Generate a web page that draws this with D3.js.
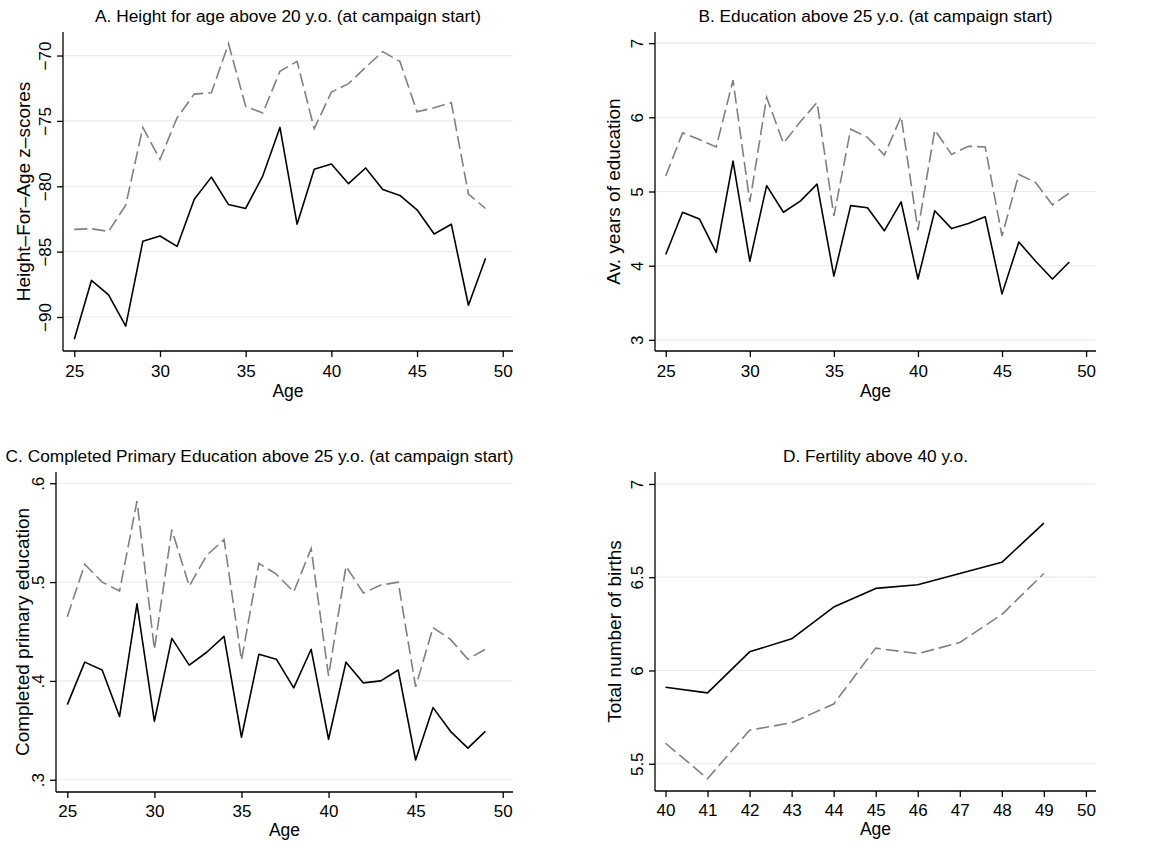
<!DOCTYPE html>
<html>
<head>
<meta charset="utf-8">
<script src="https://cdn.jsdelivr.net/npm/d3@7"></script>
<style>
  body { margin: 0; background: #fff; }
  text { font-family: "Liberation Sans", Arial, sans-serif; fill: #000; }
</style>
</head>
<body>
<div class="canvas"></div>
<script>
// data
const ages = d3.range(25, 50);
const ages40 = d3.range(40, 50);

const heightSolid = [-91.7, -87.2, -88.3, -90.7, -84.2, -83.8, -84.6, -81.0, -79.3, -81.4, -81.7, -79.2, -75.5,
  -82.9, -78.7, -78.3, -79.8, -78.6, -80.25, -80.7, -81.8, -83.65, -82.9, -89.1, -85.5];
const heightDashed = [-83.3, -83.25, -83.45, -81.45, -75.5, -77.95, -74.75, -72.95, -72.85, -69.1, -73.9, -74.4, -71.2,
  -70.45, -75.6, -72.8, -72.15, -70.9, -69.7, -70.45, -74.3, -74.0, -73.6, -80.6, -81.7];

const educSolid = [4.15, 4.72, 4.63, 4.18, 5.41, 4.06, 5.08, 4.72, 4.87, 5.10, 3.86, 4.81, 4.78,
  4.47, 4.86, 3.82, 4.74, 4.50, 4.57, 4.66, 3.62, 4.32, 4.06, 3.82, 4.05];
const educDashed = [5.21, 5.79, 5.70, 5.60, 6.50, 4.86, 6.27, 5.65, 5.94, 6.20, 4.67, 5.84, 5.73,
  5.49, 6.01, 4.48, 5.83, 5.50, 5.61, 5.60, 4.40, 5.23, 5.12, 4.82, 4.98];

const primarySolid = [.376, .419, .411, .364, .478, .359, .443, .416, .429, .445, .343, .427, .422,
  .393, .432, .341, .419, .398, .400, .411, .320, .373, .349, .332, .349];
const primaryDashed = [.465, .518, .500, .491, .582, .432, .553, .496, .527, .543, .421, .519, .508,
  .490, .534, .405, .516, .489, .497, .500, .394, .454, .442, .422, .432];

const birthsSolid = [5.91, 5.88, 6.10, 6.17, 6.34, 6.44, 6.46, 6.52, 6.58, 6.79];
const birthsDashed = [5.61, 5.42, 5.68, 5.72, 5.82, 6.12, 6.09, 6.15, 6.30, 6.52];

// tick labels
const ageTicks = [25, 30, 35, 40, 45, 50];
const age40Ticks = d3.range(40, 51);
const heightTicks = [-90, -85, -80, -75, -70];
const educTicks = [3, 4, 5, 6, 7];
const primaryTicks = [.3, .4, .5, .6];
const birthsTicks = [5.5, 6, 6.5, 7];

const width = 1171;
const height = 846;

const svg = d3.select('.canvas')
  .append('svg')
    .attr('width', width)
    .attr('height', height);

const panels = [
  {
    title: 'A. Height for age above 20 y.o. (at campaign start)', titleX: null, titleY: 22,
    ytitle: 'Height\u2013For\u2013Age z\u2013scores', ytitleOff: 33,
    box: {left: 63, top: 32, right: 513, bottom: 351},
    xd: [24.34, 50.6], yd: [-92.6, -68.2],
    xs: ages, solid: heightSolid, dashed: heightDashed,
    xt: ageTicks, yt: heightTicks, fmt: d => d < 0 ? '\u2212' + Math.abs(d) : d,
    xtOff: 26, xtitleOff: 46
  },
  {
    title: 'B. Education above 25 y.o. (at campaign start)', titleX: null, titleY: 22,
    ytitle: 'Av. years of education', ytitleOff: 35,
    box: {left: 655, top: 32, right: 1096, bottom: 351},
    xd: [24.36, 50.59], yd: [2.85, 7.15],
    xs: ages, solid: educSolid, dashed: educDashed,
    xt: ageTicks, yt: educTicks, fmt: d => d,
    xtOff: 26, xtitleOff: 46
  },
  {
    title: 'C. Completed Primary Education above 25 y.o. (at campaign start)', titleX: 259.5, titleY: 462,
    ytitle: 'Completed primary education', ytitleOff: 27,
    box: {left: 56, top: 472, right: 513, bottom: 792},
    xd: [24.35, 50.59], yd: [.2876, .6114],
    xs: ages, solid: primarySolid, dashed: primaryDashed,
    xt: ageTicks, yt: primaryTicks, fmt: d => String(d).replace(/^0/, ''),
    xtOff: 25, xtitleOff: 44
  },
  {
    title: 'D. Fertility above 40 y.o.', titleX: null, titleY: 462,
    ytitle: 'Total number of births', ytitleOff: 34,
    box: {left: 655, top: 472, right: 1096, bottom: 791},
    xd: [39.75, 50.24], yd: [5.354, 7.064],
    xs: ages40, solid: birthsSolid, dashed: birthsDashed,
    xt: age40Ticks, yt: birthsTicks, fmt: d => d,
    xtOff: 25, xtitleOff: 44
  }
];

const drawPanel = (p) => {
  const b = p.box;
  const x = d3.scaleLinear().domain(p.xd).range([b.left, b.right]);
  const y = d3.scaleLinear().domain(p.yd).range([b.bottom, b.top]);
  const g = svg.append('g');

  // gridlines
  g.selectAll('line.grid')
    .data(p.yt)
    .enter()
    .append('line')
      .attr('class', 'grid')
      .attr('x1', b.left)
      .attr('x2', b.right)
      .attr('y1', d => y(d))
      .attr('y2', d => y(d))
      .attr('stroke', '#e6eef0')
      .attr('stroke-width', 1.2);

  // axes
  const xAxis = d3.axisBottom(x).tickValues(p.xt).tickSize(6).tickSizeOuter(0).tickPadding(4);
  const yAxis = d3.axisLeft(y).tickValues(p.yt).tickSize(6).tickSizeOuter(0).tickFormat(p.fmt);

  const xg = g.append('g')
    .attr('transform', `translate(0, ${b.bottom})`)
    .call(xAxis);
  xg.select('.domain').attr('d', `M${b.left},0H${b.right}`);
  xg.selectAll('text')
    .attr('y', p.xtOff)
    .attr('dy', 0)
    .style('font-size', '17px');

  const yg = g.append('g')
    .attr('transform', `translate(${b.left}, 0)`)
    .call(yAxis);
  yg.select('.domain').attr('d', `M0,${b.bottom}V${b.top}`);
  yg.selectAll('text')
    .attr('x', 0)
    .attr('dy', 0)
    .attr('transform', 'translate(-12, 0) rotate(-90)')
    .attr('text-anchor', 'middle')
    .style('font-size', '17px');

  g.selectAll('.domain, .tick line')
    .attr('stroke', '#000')
    .attr('stroke-width', 1.3);

  // series
  const line = d3.line()
    .x((d, i) => x(p.xs[i]))
    .y(d => y(d));

  g.append('path')
    .datum(p.dashed)
    .attr('fill', 'none')
    .attr('stroke', '#808080')
    .attr('stroke-width', 1.6)
    .attr('stroke-dasharray', '13,5')
    .attr('d', line);

  g.append('path')
    .datum(p.solid)
    .attr('fill', 'none')
    .attr('stroke', '#000')
    .attr('stroke-width', 1.6)
    .attr('stroke-linejoin', 'round')
    .attr('d', line);

  // titles
  g.append('text')
    .attr('x', p.titleX !== null ? p.titleX : (b.left + b.right) / 2)
    .attr('y', p.titleY)
    .attr('text-anchor', 'middle')
    .style('font-size', '17.3px')
    .text(p.title);

  g.append('text')
    .attr('x', (b.left + b.right) / 2)
    .attr('y', b.bottom + p.xtitleOff)
    .attr('text-anchor', 'middle')
    .style('font-size', '17.5px')
    .text('Age');

  g.append('text')
    .attr('transform', `translate(${b.left - p.ytitleOff}, ${(b.top + b.bottom) / 2}) rotate(-90)`)
    .attr('text-anchor', 'middle')
    .style('font-size', '19px')
    .text(p.ytitle);
};

panels.forEach(drawPanel);
</script>
</body>
</html>
